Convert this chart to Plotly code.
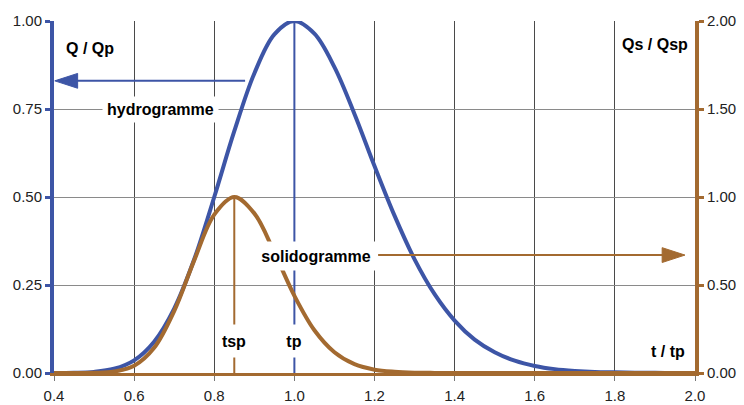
import plotly.graph_objects as go

# ---- data ----
t_ratio = [0.40, 0.45, 0.50, 0.55, 0.60, 0.65, 0.70, 0.75, 0.80, 0.85, 0.90, 0.95,
           1.00, 1.05, 1.10, 1.15, 1.20, 1.25, 1.30, 1.35, 1.40, 1.45, 1.50, 1.55,
           1.60, 1.65, 1.70, 1.75, 1.80, 1.85, 1.90, 1.95, 2.00]
q_qp = [0.0001, 0.0006, 0.003, 0.012, 0.036, 0.089, 0.183, 0.323, 0.500, 0.687, 0.851, 0.962,
        1.000, 0.964, 0.869, 0.736, 0.588, 0.447, 0.323, 0.224, 0.149, 0.095, 0.059, 0.035,
        0.020, 0.011, 0.006, 0.003, 0.002, 0.001, 0.0004, 0.0002, 0.0001]
qs_qsp = [0.0, 0.0001, 0.001, 0.008, 0.041, 0.143, 0.352, 0.640, 0.900, 1.000, 0.907, 0.685,
          0.439, 0.243, 0.118, 0.050, 0.019, 0.007, 0.002, 0.0006, 0.0002, 0.0, 0.0, 0.0,
          0.0, 0.0, 0.0, 0.0, 0.0, 0.0, 0.0, 0.0, 0.0]

tp = 1.00
tsp = 0.85
x_ticks = [0.4, 0.6, 0.8, 1.0, 1.2, 1.4, 1.6, 1.8, 2.0]
y_ticks = [0.0, 0.25, 0.5, 0.75, 1.0]
y2_ticks = [0.0, 0.5, 1.0, 1.5, 2.0]

# arrows / labels positions (data coords)
hydro_arrow_x = [0.877, 0.402]
hydro_arrow_y = [0.83, 0.83]
solido_arrow_x = [1.209, 1.975]
solido_arrow_y = [0.67, 0.67]   # on right axis

BLUE = "#3D55A6"
BROWN = "#A36A30"
FONT = "Liberation Sans, Arial, sans-serif"

fig = go.Figure()

# vertical markers tp / tsp
fig.add_trace(go.Scatter(x=[tp, tp], y=[0, 1], mode="lines",
                         line=dict(color=BLUE, width=2), hoverinfo="skip", showlegend=False))
fig.add_trace(go.Scatter(x=[tsp, tsp], y=[0, 0.5], mode="lines",
                         line=dict(color=BROWN, width=2), hoverinfo="skip", showlegend=False))

# hydrogramme
fig.add_trace(go.Scatter(x=t_ratio, y=q_qp, mode="lines",
                         line=dict(color=BLUE, width=4, shape="spline", smoothing=1.0),
                         showlegend=False))
# solidogramme (right axis)
fig.add_trace(go.Scatter(x=t_ratio, y=qs_qsp, mode="lines", yaxis="y2",
                         line=dict(color=BROWN, width=4, shape="spline", smoothing=1.0),
                         showlegend=False))

# arrows
fig.add_trace(go.Scatter(x=hydro_arrow_x, y=hydro_arrow_y, mode="lines+markers",
                         line=dict(color=BLUE, width=2),
                         marker=dict(symbol="arrow", size=[0, 24], angleref="previous", color=BLUE,
                                     opacity=1, line=dict(width=1, color=BLUE)),
                         cliponaxis=False, showlegend=False))
fig.add_trace(go.Scatter(x=solido_arrow_x, y=solido_arrow_y, mode="lines+markers", yaxis="y2",
                         line=dict(color=BROWN, width=2),
                         marker=dict(symbol="arrow", size=[0, 24], angleref="previous", color=BROWN,
                                     opacity=1, line=dict(width=1, color=BROWN)),
                         cliponaxis=False, showlegend=False))

bold = dict(family=FONT, size=16, color="#000")
ann = [
    dict(x=0.49, y=0.923, text="<b>Q / Qp</b>", showarrow=False, font=bold),
    dict(x=1.90, y=0.932, text="<b>Qs / Qsp</b>", showarrow=False, font=bold),
    dict(x=1.933, y=0.06, text="<b>t / tp</b>", showarrow=False, font=bold),
    dict(x=0.665, y=0.75, text="<b>hydrogramme</b>", showarrow=False, font=bold,
         bgcolor="white", borderpad=4),
    dict(x=1.053, y=0.333, text="<b>solidogramme</b>", showarrow=False, font=bold,
         bgcolor="white", width=120, height=26),
    dict(x=tsp, y=0.092, text="<b>tsp</b>", showarrow=False, font=bold,
         bgcolor="white", width=30, height=30),
    dict(x=tp, y=0.092, text="<b>tp</b>", showarrow=False, font=bold,
         bgcolor="white", width=22, height=30),
]
for a in ann:
    a.update(xref="x", yref="y")

tickfont = dict(family=FONT, size=15, color="#222")
fig.update_layout(
    width=744, height=405,
    margin=dict(l=54, r=49, t=21, b=32, autoexpand=False),
    paper_bgcolor="white", plot_bgcolor="white",
    annotations=ann,
    xaxis=dict(range=[0.4, 2.0], tickvals=x_ticks, ticktext=[f"{v:.1f}" for v in x_ticks],
               showgrid=True, gridcolor="#4a4a4a", gridwidth=1, zeroline=False,
               showline=True, linecolor=BROWN, linewidth=3, automargin=False,
               ticks="outside", ticklen=5, tickcolor="#777", tickwidth=1,
               ticklabelstandoff=2, tickfont=tickfont),
    yaxis=dict(range=[0, 1], tickvals=y_ticks, ticktext=[f"{v:.2f}" for v in y_ticks],
               showgrid=True, gridcolor="#8a8a8a", gridwidth=1, zeroline=False,
               showline=True, linecolor=BLUE, linewidth=4, automargin=False,
               ticks="outside", ticklen=5, tickcolor=BLUE, tickwidth=3,
               tickfont=tickfont),
    yaxis2=dict(range=[0, 2], tickvals=y2_ticks, ticktext=[f"{v:.2f}" for v in y2_ticks],
                overlaying="y", side="right", showgrid=False, zeroline=False,
                showline=True, linecolor=BROWN, linewidth=4, automargin=False,
                ticks="outside", ticklen=5, tickcolor=BROWN, tickwidth=3,
                tickfont=tickfont),
)

fig.write_html("out.html", config={"displayModeBar": False},
               post_script="document.body.style.margin='0px';document.body.style.overflow='hidden';")
